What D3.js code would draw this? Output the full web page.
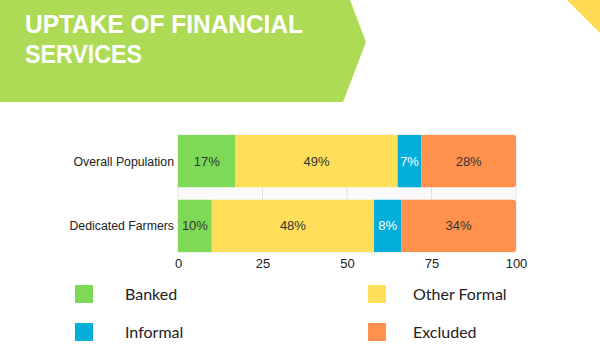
<!DOCTYPE html>
<html><head><meta charset="utf-8">
<script src="https://cdn.jsdelivr.net/npm/d3@7"></script>
<style>body{margin:0;background:#fff;} svg{display:block;}</style>
</head><body>
<script>
const categories = ["Overall Population", "Dedicated Farmers"];
const seriesNames = ["Banked", "Other Formal", "Informal", "Excluded"];
const banked = [17, 10];
const otherFormal = [48, 48];
const informal = [7, 8];
const excluded = [28, 34];
const bankedLabels = ["17%", "10%"];
const otherFormalLabels = ["49%", "48%"];
const informalLabels = ["7%", "8%"];
const excludedLabels = ["28%", "34%"];
const tickValues = [0, 25, 50, 75, 100];
const colors = ["#7ed957", "#ffde59", "#03aedb", "#ff914d"];
const labelColors = ["#333", "#333", "#fff", "#333"];
const allLabels = [bankedLabels, otherFormalLabels, informalLabels, excludedLabels];

const W = 600, H = 350;
const svg = d3.select("body").append("svg").attr("width", W).attr("height", H);

// banner
svg.append("polygon").attr("points", "0,0 350,0 366,42 343,102 0,102").attr("fill", "#addb55");
svg.append("polygon").attr("points", "567,0 600,0 600,33").attr("fill", "#ffd952");
const tf = "'Liberation Sans', Arial, sans-serif";
svg.append("text").attr("x", 25).attr("y", 33).attr("fill", "#fff").attr("font-family", tf)
  .attr("font-weight", 700).attr("font-size", 26.5).text("UPTAKE OF FINANCIAL")
  .attr("textLength", 278).attr("lengthAdjust", "spacingAndGlyphs");
svg.append("text").attr("x", 25).attr("y", 63).attr("fill", "#fff").attr("font-family", tf)
  .attr("font-weight", 700).attr("font-size", 26.5).text("SERVICES")
  .attr("textLength", 117).attr("lengthAdjust", "spacingAndGlyphs");

// chart
const x = d3.scaleLinear().domain([0, 100]).range([178, 516]);
const y = d3.scaleBand().domain(categories).range([135, 252]).paddingInner(0.19).paddingOuter(0);

const stackData = categories.map((c, i) => ({cat: c, idx: i, Banked: banked[i], "Other Formal": otherFormal[i], Informal: informal[i], Excluded: excluded[i]}));
const stacked = d3.stack().keys(seriesNames)(stackData);

svg.append("rect").attr("x", x(0)).attr("y", 135).attr("width", x(100) - x(0)).attr("height", 117)
  .attr("fill", "#fafafa").attr("stroke", "#e4e4e4").attr("stroke-width", 1);
svg.append("g").selectAll("line").data(tickValues.slice(1, 4)).join("line")
  .attr("x1", d => x(d)).attr("x2", d => x(d)).attr("y1", 135).attr("y2", 252)
  .attr("stroke", "#e2e2e2").attr("stroke-width", 1);

stacked.forEach((s, si) => {
  const g = svg.append("g");
  g.selectAll("path").data(s).join("path")
    .attr("fill", colors[si])
    .attr("d", d => {
      const x0 = x(d[0]), x1 = x(d[1]), y0 = y(d.data.cat), h = y.bandwidth();
      if (si === seriesNames.length - 1) {
        const r = 3;
        return `M${x0},${y0}H${x1 - r}Q${x1},${y0} ${x1},${y0 + r}V${y0 + h - r}Q${x1},${y0 + h} ${x1 - r},${y0 + h}H${x0}Z`;
      }
      return `M${x0},${y0}H${x1}V${y0 + h}H${x0}Z`;
    });
  g.selectAll("text").data(s).join("text")
    .attr("x", d => (x(d[0]) + x(d[1])) / 2)
    .attr("y", d => y(d.data.cat) + y.bandwidth() / 2 + 4.5)
    .attr("text-anchor", "middle").attr("font-family", "Liberation Sans, Arial").attr("font-size", 13)
    .attr("fill", labelColors[si]).text(d => allLabels[si][d.data.idx]);
});

// category labels
svg.append("g").selectAll("text").data(categories).join("text")
  .attr("x", 174).attr("y", d => y(d) + y.bandwidth() / 2 + 4.5).attr("text-anchor", "end")
  .attr("font-family", "Liberation Sans, Arial").attr("font-size", 12.3).attr("fill", "#222").text(d => d);

// x axis
const ax = svg.append("g").attr("transform", "translate(0,252)")
  .call(d3.axisBottom(x).tickValues(tickValues).tickSize(0).tickPadding(7));
ax.select(".domain").remove();
ax.selectAll("text").attr("font-family", "Liberation Sans, Arial").attr("font-size", 13).attr("fill", "#222");

// legend
const legPos = [[75, 285], [368, 285], [75, 323], [368, 323]];
const lg = svg.append("g").selectAll("g").data(seriesNames).join("g")
  .attr("transform", (d, i) => `translate(${legPos[i][0]},${legPos[i][1]})`);
lg.append("rect").attr("width", 18).attr("height", 18).attr("fill", (d, i) => colors[i]);
lg.append("text").attr("x", (d, i) => i % 2 === 0 ? 50 : 45).attr("y", 14.5)
  .attr("font-family", "Lato").attr("font-size", 16).attr("fill", "#222").text(d => d);
</script>
</body></html>
